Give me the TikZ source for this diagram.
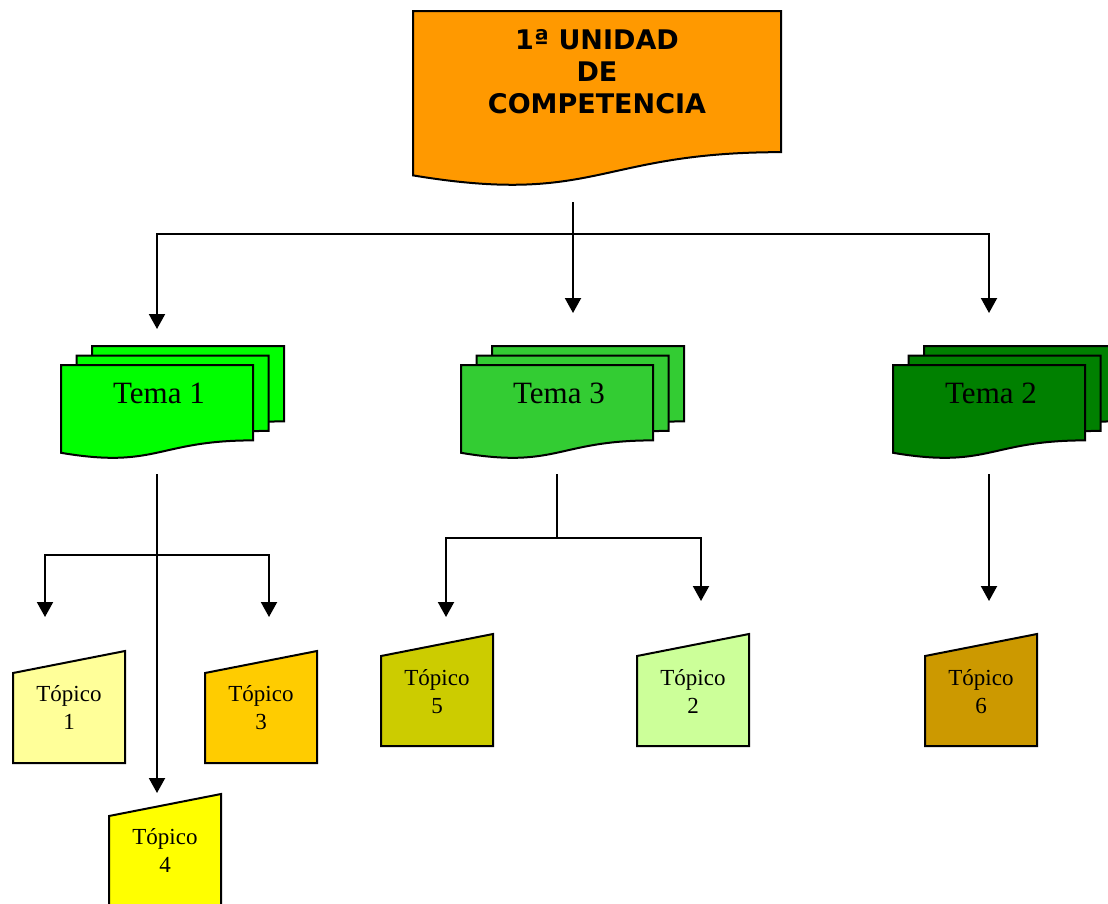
\documentclass[tikz,border=0pt]{standalone}
\usepackage{fontspec}
\setmainfont{Liberation Serif}
\newfontfamily\titulofont{DejaVu Sans}
\usetikzlibrary{arrows.meta}

\definecolor{naranja}{HTML}{FF9900}
\definecolor{verdeA}{HTML}{00FF00}
\definecolor{verdeB}{HTML}{33CC33}
\definecolor{verdeC}{HTML}{008000}
\definecolor{amarA}{HTML}{FFFF99}
\definecolor{amarB}{HTML}{FFCC00}
\definecolor{amarC}{HTML}{FFFF00}
\definecolor{oliva}{HTML}{CCCC00}
\definecolor{verdeclaro}{HTML}{CCFF99}
\definecolor{ocre}{HTML}{CC9900}

\tikzset{
  linea/.style={line width=2pt},
  flecha/.style={line width=2pt,-{Triangle[width=16pt,length=15pt]}},
  caja/.style={line width=2pt,draw=black},
  titulo/.style={anchor=base,align=center,font=\titulofont\bfseries\fontsize{27}{32}\selectfont},
  tematxt/.style={anchor=base,font=\fontsize{31}{36}\selectfont},
  topicotxt/.style={anchor=base,align=center,font=\fontsize{23}{28}\selectfont}
}

% document shape: x, y (top left), w, h, colour
\newcommand{\docu}[5]{%
  \filldraw[caja,fill=#5] (#1,#2) -- ({#1+#3},#2) -- ({#1+#3},{#2+0.802*#4})
    .. controls ({#1+0.5*#3},{#2+0.802*#4}) and ({#1+0.5*#3},{#2+1.1075*#4}) .. (#1,{#2+0.934*#4}) -- cycle;}
% three stacked documents: x, y, colour
\newcommand{\temadoc}[3]{%
  \docu{#1+31}{#2-19}{192}{94}{#3}
  \docu{#1+15.5}{#2-9.5}{192}{94}{#3}
  \docu{#1}{#2}{192}{94}{#3}}
% manual input shape: x, y (top right corner), colour
\newcommand{\topico}[3]{%
  \filldraw[caja,fill=#3] (#1,{#2+22}) -- ({#1+112},#2) -- ({#1+112},{#2+112}) -- (#1,{#2+112}) -- cycle;}

\begin{document}
\begin{tikzpicture}[x=1pt,y=-1pt]
\clip (0,0) rectangle (1108,903);

\docu{413}{11}{368}{176}{naranja}
% base = last line
\node[titulo] (unidad) at (597,113) {1ª UNIDAD\\DE\\COMPETENCIA};

\temadoc{61}{365}{verdeA}
\temadoc{461}{365}{verdeB}
\temadoc{893}{365}{verdeC}
\node[tematxt] (tema1) at (159,403) {Tema 1};
\node[tematxt] (tema3) at (559,403) {Tema 3};
\node[tematxt] (tema2) at (991,403) {Tema 2};

\topico{13}{651}{amarA}
\topico{205}{651}{amarB}
\topico{109}{794}{amarC}
\topico{381}{634}{oliva}
\topico{637}{634}{verdeclaro}
\topico{925}{634}{ocre}
\node[topicotxt] (top1) at (69,729) {Tópico\\1};
\node[topicotxt] (top3) at (261,729) {Tópico\\3};
\node[topicotxt] (top4) at (165,872) {Tópico\\4};
\node[topicotxt] (top5) at (437,713) {Tópico\\5};
\node[topicotxt] (top2) at (693,713) {Tópico\\2};
\node[topicotxt] (top6) at (981,713) {Tópico\\6};

% connectors
\coordinate (u-out) at (573,202);
\coordinate (u-hub) at (573,234);
\coordinate (t1-in) at (157,329);
\coordinate (t3-in) at (573,313);
\coordinate (t2-in) at (989,313);
\draw[flecha] (u-out) -- (t3-in);
\draw[flecha] (u-hub) -| (t1-in);
\draw[flecha] (u-hub) -| (t2-in);

\coordinate (t1-out) at (157,474);
\coordinate (t1-hub) at (157,555);
\coordinate (p1-in) at (45,617);
\coordinate (p3-in) at (269,617);
\coordinate (p4-in) at (157,793);
\draw[flecha] (t1-out) -- (p4-in);
\draw[flecha] (t1-hub) -| (p1-in);
\draw[flecha] (t1-hub) -| (p3-in);

\coordinate (t3-out) at (557,474);
\coordinate (t3-hub) at (557,538);
\coordinate (p5-in) at (446,617);
\coordinate (p2-in) at (701,601);
\draw[linea] (t3-out) -- (t3-hub);
\draw[flecha] (t3-hub) -| (p5-in);
\draw[flecha] (t3-hub) -| (p2-in);

\coordinate (t2-out) at (989,474);
\coordinate (p6-in) at (989,601);
\draw[flecha] (t2-out) -- (p6-in);
\end{tikzpicture}
\end{document}
